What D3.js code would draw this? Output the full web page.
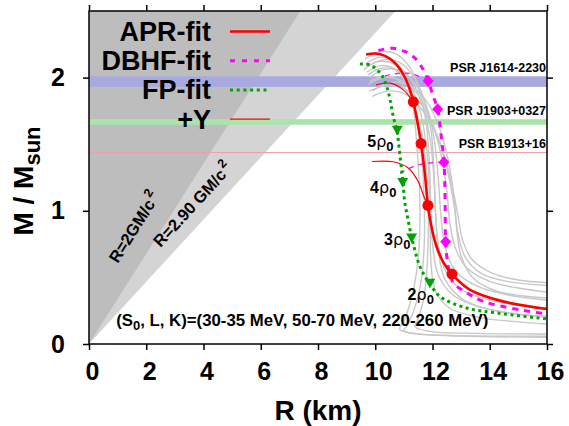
<!DOCTYPE html>
<html>
<head>
<meta charset="utf-8">
<script src="https://cdn.jsdelivr.net/npm/d3@7"></script>
<style>
body { margin: 0; background: #fff; }
svg { display: block; font-family: "Liberation Sans", Arial, Helvetica, sans-serif; font-weight: bold; }
</style>
</head>
<body>
<div id="chart"></div>
<script>
// data (R in km, M in solar masses)
var xTicks = [0, 2, 4, 6, 8, 10, 12, 14, 16];
var yTicks = [0, 1, 2];
var GM_C2 = 1.4766;            // km per solar mass
var limitFactors = [2, 2.90];  // R = f GM/c^2
var limitLabels = ["R=2GM/c", "R=2.90 GM/c"];

var pulsarNames = ["PSR J1614-2230", "PSR J1903+0327", "PSR B1913+16"];
var pulsarMass = [1.97, 1.667, 1.4398];
var pulsarErr = [0.04, 0.021, 0.0015];

var aprFit = [[9.68,2.174],[9.99,2.181],[10.34,2.163],[10.69,2.11],[10.97,2.028],[11.18,1.93],[11.33,1.818],[11.46,1.683],[11.6,1.505],[11.7,1.345],[11.77,1.195],[11.84,1.04],[11.95,0.895],[12.12,0.745],[12.37,0.617],[12.68,0.525],[13.31,0.407],[14.46,0.32],[15.99,0.263]];
var aprMarks = [[11.33,1.818],[11.6,1.505],[11.84,1.04],[12.68,0.525]];

var dbhfFit = [[10.11,2.204],[10.63,2.221],[11.04,2.195],[11.39,2.146],[11.68,2.058],[11.85,1.975],[12.03,1.857],[12.18,1.763],[12.29,1.583],[12.4,1.365],[12.44,1.083],[12.46,0.767],[12.55,0.582],[12.73,0.458],[13.14,0.392],[13.77,0.32],[15.17,0.252],[15.99,0.227]];
var dbhfMarks = [[11.85,1.975],[12.18,1.763],[12.4,1.365],[12.46,0.767]];

var fpFit = [[9.47,2.103],[9.85,2.092],[10.22,2.02],[10.4,1.932],[10.52,1.833],[10.63,1.707],[10.76,1.6],[10.84,1.458],[10.92,1.308],[10.97,1.218],[11.02,1.083],[11.1,0.983],[11.18,0.895],[11.28,0.795],[11.56,0.582],[11.9,0.455],[12.26,0.357],[13.19,0.27],[14.24,0.233],[16,0.188]];
var fpMarks = [[10.77,1.605],[10.96,1.212],[11.27,0.795],[11.91,0.457]];

var aprY1 = [[10.03,1.945],[10.52,1.958],[10.98,1.908],[11.27,1.833]];
var aprY2 = [[9.88,1.37],[10.63,1.368],[11.16,1.32],[11.5,1.22],[11.7,1.107],[11.83,1.045]];
var dbhfY1 = [[10.34,2.013],[10.8,2.032],[11.28,2.028],[11.85,1.975]];
var dbhfY2 = [[10.87,1.283],[11.33,1.332],[11.85,1.358],[12.4,1.365]];

var densLabels = ["5", "4", "3", "2"];
var densPos = [[9.72,1.482],[9.82,1.133],[10.31,0.745],[11.13,0.332]];

var greyCurves = [
  [[9.8,2.0],[10.3,2.06],[10.9,2.05],[11.4,1.95],[11.8,1.78],[12.05,1.55],[12.2,1.25],[12.3,0.95],[12.45,0.72],[12.8,0.55],[13.5,0.44],[14.6,0.37],[16,0.33]],
  [[9.75,1.95],[10.3,2.0],[10.9,1.98],[11.5,1.87],[11.95,1.68],[12.3,1.42],[12.5,1.15],[12.6,0.92],[12.8,0.72],[13.2,0.57],[14.0,0.47],[15,0.42],[16,0.39]],
  [[9.8,1.9],[10.4,1.94],[11.0,1.92],[11.6,1.8],[12.1,1.6],[12.5,1.32],[12.75,1.05],[12.9,0.82],[13.15,0.65],[13.7,0.53],[14.6,0.47],[16,0.44]],
  [[9.9,1.86],[10.5,1.9],[11.1,1.87],[11.7,1.74],[12.25,1.52],[12.65,1.22],[12.9,0.95],[13.05,0.78],[13.4,0.63],[14.1,0.53],[15,0.48],[16,0.46]],
  [[9.7,2.08],[10.2,2.13],[10.8,2.12],[11.3,2.02],[11.7,1.84],[11.95,1.6],[12.05,1.3],[12.1,1.0],[12.2,0.75],[12.45,0.55],[13.0,0.41],[14,0.33],[15,0.29],[16,0.27]],
  [[9.65,2.14],[10.1,2.19],[10.7,2.18],[11.2,2.08],[11.55,1.9],[11.8,1.62],[11.9,1.3],[11.95,1.0],[12.0,0.75],[12.2,0.52],[12.7,0.37],[13.6,0.28],[14.8,0.23],[16,0.2]],
  [[9.75,2.02],[10.2,2.07],[10.8,2.05],[11.25,1.93],[11.6,1.72],[11.8,1.45],[11.9,1.15],[11.92,0.85],[11.95,0.6],[12.1,0.4],[12.6,0.27],[13.6,0.2],[14.8,0.17],[16,0.15]],
  [[9.65,2.1],[10.1,2.15],[10.6,2.13],[11.0,2.02],[11.3,1.82],[11.45,1.5],[11.55,1.15],[11.55,0.82],[11.45,0.55],[11.25,0.33],[11.0,0.17],[10.85,0.11],[11.3,0.08],[12.6,0.065],[16,0.058]],
  [[9.7,2.04],[10.2,2.09],[10.7,2.06],[11.1,1.95],[11.4,1.75],[11.6,1.45],[11.7,1.12],[11.72,0.82],[11.65,0.55],[11.45,0.32],[11.15,0.15],[11.0,0.1],[11.5,0.075],[13,0.06],[16,0.05]],
  [[9.8,1.97],[10.3,2.01],[10.8,1.98],[11.2,1.86],[11.55,1.65],[11.75,1.38],[11.85,1.08],[11.85,0.8],[11.8,0.55],[11.7,0.35],[11.5,0.19],[11.4,0.13],[11.9,0.095],[13.5,0.08],[16,0.075]],
  [[9.9,1.9],[10.5,1.96],[11.1,1.95],[11.7,1.85],[12.2,1.65],[12.55,1.38],[12.75,1.1],[12.85,0.86],[13.0,0.66],[13.4,0.5],[14.2,0.4],[15.2,0.36],[16,0.345]],
  [[9.6,2.06],[10.1,2.12],[10.7,2.1],[11.2,2.0],[11.6,1.82],[11.9,1.56],[12.05,1.25],[12.12,0.95],[12.2,0.7],[12.45,0.48],[13.1,0.33],[14.2,0.25],[15.2,0.22],[16,0.21]]
];

var legendNames = ["APR-fit", "DBHF-fit", "FP-fit", "+Y"];

var W = 569, H = 426,
    m = {left: 89, right: 22, top: 11, bottom: 82};

var svg = d3.select('#chart').append('svg').attr('width', W).attr('height', H);
var x = d3.scaleLinear().domain([0, 16]).range([m.left, W - m.right]);
var y = d3.scaleLinear().domain([0, 2.5]).range([H - m.bottom, m.top]);
var line = d3.line().x(function(d) { return x(d[0]); }).y(function(d) { return y(d[1]); })
    .curve(d3.curveCatmullRom.alpha(0.5));

svg.append('defs').append('clipPath').attr('id', 'clip')
  .append('rect').attr('x', x(0)).attr('y', y(2.5)).attr('width', x(16) - x(0)).attr('height', y(0) - y(2.5));
var plot = svg.append('g').attr('clip-path', 'url(#clip)');

// causality / horizon regions
var regionColors = ['#bdbdbd', '#d4d4d4'];
[1, 0].forEach(function(i) {
    var rTop = limitFactors[i] * GM_C2 * 2.5;
    plot.append('path')
        .attr('d', d3.line()([[x(0), y(0)], [x(rTop), y(2.5)], [x(0), y(2.5)]]) + 'Z')
        .attr('fill', regionColors[i]);
});

// pulsar bands
var bandColors = ['#a9a9e2', '#aae4aa', '#f0a0a0'];
pulsarNames.forEach(function(n, i) {
    plot.append('rect')
        .attr('x', x(0)).attr('width', x(16) - x(0))
        .attr('y', y(pulsarMass[i] + pulsarErr[i]))
        .attr('height', Math.max(1, y(pulsarMass[i] - pulsarErr[i]) - y(pulsarMass[i] + pulsarErr[i])))
        .attr('fill', bandColors[i]);
    svg.append('text')
        .attr('x', x(16) - 1).attr('y', y(pulsarMass[i] + pulsarErr[i]) - 4)
        .attr('text-anchor', 'end').attr('font-size', 12.5)
        .text(n);
});

// limit labels
var limitLabelPos = [[1.0, 0.6], [2.5, 0.72]];
var limitAngle = limitFactors.map(function(f) {
    var dx = x(f * GM_C2) - x(0), dy = y(0) - y(1);
    return -Math.atan2(dy, dx) * 180 / Math.PI;
});
limitLabels.forEach(function(t, i) {
    var tx = svg.append('text')
        .attr('transform', 'translate(' + x(limitLabelPos[i][0]) + ',' + y(limitLabelPos[i][1]) + ') rotate(' + limitAngle[i] + ')')
        .attr('font-size', 16.5);
    tx.append('tspan').text(t);
    tx.append('tspan').attr('dy', -8).attr('dx', 2).attr('font-size', 12.5).text('2');
});

// grey family
plot.selectAll('.grey').data(greyCurves).enter().append('path')
    .attr('d', line).attr('fill', 'none').attr('stroke', '#c8c8c8').attr('stroke-width', 1.4);

// hyperon branches
[aprY1, aprY2].forEach(function(c) {
    plot.append('path').attr('d', line(c)).attr('fill', 'none').attr('stroke', '#ff0000').attr('stroke-width', 1.2);
});
[dbhfY1, dbhfY2].forEach(function(c) {
    plot.append('path').attr('d', line(c)).attr('fill', 'none').attr('stroke', '#ff00ff')
        .attr('stroke-width', 1.2).attr('stroke-dasharray', '5,5');
});

plot.append('path').attr('d', line(fpFit)).attr('fill', 'none').attr('stroke', '#00a400')
    .attr('stroke-width', 3).attr('stroke-dasharray', '3,3.5');
plot.append('path').attr('d', line(dbhfFit)).attr('fill', 'none').attr('stroke', '#ff00ff')
    .attr('stroke-width', 3).attr('stroke-dasharray', '6,6');
plot.append('path').attr('d', line(aprFit)).attr('fill', 'none').attr('stroke', '#ff0000')
    .attr('stroke-width', 2.6);

// markers
plot.selectAll('.apr').data(aprMarks).enter().append('circle')
    .attr('cx', function(d) { return x(d[0]); }).attr('cy', function(d) { return y(d[1]); })
    .attr('r', 5.5).attr('fill', '#ff0000');
plot.selectAll('.dbhf').data(dbhfMarks).enter().append('path')
    .attr('transform', function(d) { return 'translate(' + x(d[0]) + ',' + y(d[1]) + ')'; })
    .attr('d', 'M0,-6L5.5,0L0,6L-5.5,0Z').attr('fill', '#ff00ff');
plot.selectAll('.fp').data(fpMarks).enter().append('path')
    .attr('transform', function(d) { return 'translate(' + x(d[0]) + ',' + y(d[1]) + ')'; })
    .attr('d', 'M-5.5,-4.5L5.5,-4.5L0,5Z').attr('fill', '#00a000');

// density labels
densLabels.forEach(function(t, i) {
    var tx = svg.append('text').attr('x', x(densPos[i][0])).attr('y', y(densPos[i][1])).attr('font-size', 16);
    tx.append('tspan').text(t);
    tx.append('tspan').attr('font-weight', 'normal').attr('font-family', 'DejaVu Sans').attr('font-size', 16).text('\u03c1');
    tx.append('tspan').attr('dy', 4).attr('font-size', 13).text('0');
});

// parameter note
var note = svg.append('text').attr('x', x(0.95)).attr('y', y(0.137)).attr('font-size', 16.8);
note.append('tspan').text('(S');
note.append('tspan').attr('dy', 4).attr('font-size', 13).text('0');
note.append('tspan').attr('dy', -4).text(', L, K)=(30-35 MeV, 50-70 MeV, 220-260 MeV)');

// legend
var legendStyles = [
    {c: '#ff0000', w: 2.6, dash: null},
    {c: '#ff00ff', w: 3, dash: '5,7'},
    {c: '#00a400', w: 3, dash: '3,3.7'},
    {c: '#ff0000', w: 1.2, dash: null}
];
legendNames.forEach(function(n, i) {
    var by = 41 + i * 29.2;
    svg.append('text').attr('x', 211).attr('y', by).attr('text-anchor', 'end')
        .attr('font-size', 27).text(n);
    svg.append('line').attr('x1', 230).attr('x2', 270).attr('y1', by - 9.5).attr('y2', by - 9.5)
        .attr('stroke', legendStyles[i].c).attr('stroke-width', legendStyles[i].w)
        .attr('stroke-dasharray', legendStyles[i].dash);
});

// frame and axes
svg.append('rect').attr('x', x(0)).attr('y', y(2.5)).attr('width', x(16) - x(0)).attr('height', y(0) - y(2.5))
    .attr('fill', 'none').attr('stroke', '#000').attr('stroke-width', 1.5);

var ax = svg.append('g').attr('transform', 'translate(0,' + y(0) + ')')
    .call(d3.axisBottom(x).tickValues(xTicks).tickSize(6).tickPadding(12).tickFormat(d3.format('d')));
var axT = svg.append('g').attr('transform', 'translate(0,' + y(2.5) + ')')
    .call(d3.axisTop(x).tickValues(xTicks).tickSize(6).tickFormat(''));
var ay = svg.append('g').attr('transform', 'translate(' + x(0) + ',0)')
    .call(d3.axisLeft(y).tickValues(yTicks).tickSize(6).tickPadding(18).tickFormat(d3.format('d')));
var ayR = svg.append('g').attr('transform', 'translate(' + x(16) + ',0)')
    .call(d3.axisRight(y).tickValues(yTicks).tickSize(6).tickFormat(''));
[ax, axT, ay, ayR].forEach(function(g) {
    g.select('.domain').remove();
    g.selectAll('line').attr('stroke-width', 1.5);
    g.selectAll('text').attr('font-size', 25).attr('font-weight', 'bold')
        .attr('font-family', '"Liberation Sans", Arial, sans-serif').attr('fill', '#000');
});
ax.selectAll('text').attr('dx', 3);

svg.append('text').attr('x', (x(0) + x(16)) / 2).attr('y', 420).attr('text-anchor', 'middle')
    .attr('font-size', 28).text('R (km)');
var yl = svg.append('text').attr('transform', 'translate(33,' + 181 + ') rotate(-90)')
    .attr('text-anchor', 'middle').attr('font-size', 28);
yl.append('tspan').text('M / M');
yl.append('tspan').attr('dy', 7).attr('font-size', 22).text('sun');
</script>
</body>
</html>
